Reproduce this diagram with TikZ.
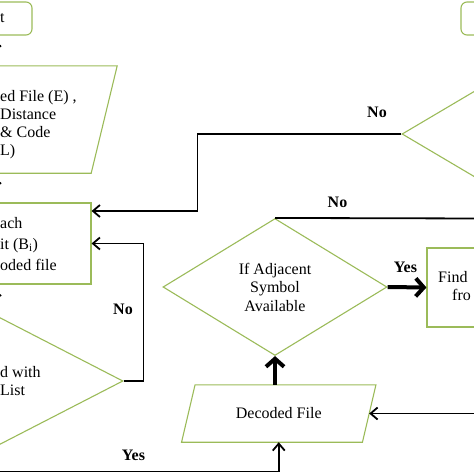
\documentclass[tikz,border=0pt]{standalone}
\usepackage{fontspec}
\setmainfont{Liberation Serif}
\usetikzlibrary{arrows.meta,shapes.geometric,positioning,decorations.markings}
\definecolor{boxgreen}{RGB}{155,187,89}
\tikzstyle{term}=[rectangle,rounded corners=6pt,draw=boxgreen,line width=1.1pt,inner sep=0pt]
\tikzstyle{proc}=[rectangle,draw=boxgreen,line width=1.1pt,inner sep=0pt]
\tikzstyle{io}=[rectangle,inner sep=0pt]
\tikzstyle{border}=[draw=boxgreen,line width=1.1pt]
\tikzstyle{dec}=[diamond,draw=boxgreen,line width=1.1pt,inner sep=0pt,align=center]
\tikzstyle{txt}=[inner sep=0pt,align=left]
\tikzstyle{lbl}=[inner sep=0pt,font=\fontsize{16}{18}\selectfont\bfseries]
\tikzstyle{flow}=[draw,line width=1.8pt,-{Straight Barb[length=7pt,width=12pt]}]
\tikzstyle{bigflow}=[draw,line width=4pt,-{Straight Barb[length=8pt,width=18pt]}]
\tikzstyle{link}=[draw,line width=1.8pt]
\tikzstyle{midflow}=[draw,line width=1.8pt,postaction={decorate},
               decoration={markings,mark=at position 0.5 with {\arrow{Straight Barb[length=4pt,width=10pt]}}}]

\begin{document}
\begin{tikzpicture}[x=1pt,y=-1pt,font=\fontsize{16}{18}\selectfont]
\useasboundingbox (0,0) rectangle (474,474);
% left column
\node [term,minimum width=72pt,minimum height=33pt] (start) at (-4,18.5) {};
\node [io,minimum width=234pt,minimum height=107pt] (input) at (-13,119.5) {};
\node [proc,minimum width=241pt,minimum height=81pt] (each) at (-29.5,243.5) {};
\node [dec,minimum width=252pt,minimum height=130pt] (match) at (-3,381) {};
% right part
\node [term,minimum width=79pt,minimum height=33pt] (stop) at (500.5,18.5) {};
\node [dec,minimum width=240pt,minimum height=142pt] (last) at (522,134) {};
\node [dec,minimum width=224pt,minimum height=137pt,font=\fontsize{16}{18.5}\selectfont] (adj) at (275,287) {If Adjacent\\Symbol\\Available};
\node [proc,minimum width=133pt,minimum height=79pt] (find) at (493.5,287.5) {};
\node [io,minimum width=180.5pt,minimum height=57pt] (dfile) at (278.75,413.5) {Decoded File};

% slanted sides of the two parallelograms
\draw [border] ([xshift=13pt]input.north west) -- ([xshift=13pt]input.north east)
  -- ([xshift=-13pt]input.south east) -- ([xshift=-13pt]input.south west) -- cycle;
\draw [border] ([xshift=6.75pt]dfile.north west) -- ([xshift=6.75pt]dfile.north east)
  -- ([xshift=-6.75pt]dfile.south east) -- ([xshift=-6.75pt]dfile.south west) -- cycle;

% texts cut by the page edge
\node [txt,anchor=base west] (startTxt) at (0,22) {t};
\node [txt,anchor=north west] (inputTxt) at (0,90) {ed File (E) ,\\Distance\\\& Code\\L)};
\node [txt,anchor=north west,font=\fontsize{16}{21}\selectfont] (eachTxt) at (0,217) {ach\\it (B\textsubscript{i})\\oded file};
\node [txt,anchor=north west] (matchTxt) at (0,366) {d with\\List};
\node [txt,anchor=base west] (findTxtA) at (438,282) {Find};
\node [txt,anchor=base west] (findTxtB) at (452,300) {fro};

% labels
\node [lbl] (noLoop) at (123,309) {No};
\node [lbl] (noLast) at (377,112.5) {No};
\node [lbl] (noAdj) at (337.5,202) {No};
\node [lbl] (yesAdj) at (405.5,267.5) {Yes};
\node [lbl] (yesMatch) at (133.5,455) {Yes};

% connectors
\coordinate (lft) at (-4,0);
\coordinate (offR) at (484,218.5);
\coordinate (offD) at (484,413.5);
\draw [midflow] (start.south -| lft) -- (input.north -| lft);
\draw [midflow] (input.south -| lft) -- (each.north -| lft);
\draw [midflow] (each.south -| lft) -- (match.north -| lft);
\draw [flow] (match.east) -- ++(20,0) |- (each.east);
\draw [flow] (last.west) -- ++(-204,0) |- ([yshift=32.5pt]each.east);
\draw [link] (adj.north) -- (offR);
\draw [bigflow] (adj.east) -- (find.west);
\draw [bigflow] (adj.south |- dfile.north) -- (adj.south);
\draw [flow] (offD) -- (dfile.east);
\draw [flow] (match.south) -- ++(0,25) -| (dfile.south);
\end{tikzpicture}
\end{document}
